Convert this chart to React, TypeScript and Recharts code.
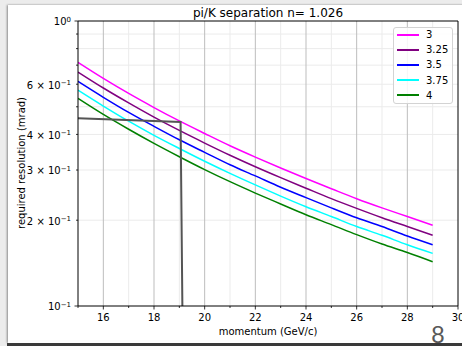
import { CartesianGrid, Legend, Line, LineChart, ReferenceLine, XAxis, YAxis } from "recharts";

// momentum (GeV/c) and required resolution (mrad)
const momentum = [15, 16, 17, 18, 19, 20, 21, 22, 23, 24, 25, 26, 27, 28, 29];
const resN300 = [0.716, 0.629, 0.557, 0.497, 0.446, 0.403, 0.365, 0.333, 0.305, 0.28, 0.258, 0.238, 0.221, 0.206, 0.192];
const resN325 = [0.662, 0.582, 0.516, 0.46, 0.413, 0.373, 0.338, 0.308, 0.282, 0.259, 0.238, 0.22, 0.204, 0.19, 0.177];
const resN350 = [0.614, 0.54, 0.478, 0.427, 0.383, 0.346, 0.313, 0.286, 0.261, 0.24, 0.221, 0.204, 0.19, 0.176, 0.164];
const resN375 = [0.572, 0.503, 0.445, 0.397, 0.357, 0.322, 0.292, 0.266, 0.243, 0.223, 0.206, 0.19, 0.177, 0.164, 0.153];
const resN400 = [0.535, 0.47, 0.417, 0.372, 0.334, 0.301, 0.273, 0.249, 0.228, 0.209, 0.193, 0.178, 0.165, 0.154, 0.143];

const seriesNames = ["3", "3.25", "3.5", "3.75", "4"];
const seriesColors = ["#ff00ff", "#800080", "#0000ff", "#00ffff", "#008000"];
const seriesValues = [resN300, resN325, resN350, resN375, resN400];

// the grey cut line
const cutX = [15, 19.05, 19.12];
const cutY = [0.456, 0.442, 0.1];

const xTicks = [15, 16, 17, 18, 19, 20, 21, 22, 23, 24, 25, 26, 27, 28, 29, 30];
const xMajor = [16, 18, 20, 22, 24, 26, 28, 30];
const xMinorGrid = [17, 19, 21, 23, 25, 27, 29];
const xMajorGrid = [16, 18, 20, 22, 24, 26, 28];

const yTicks = [0.1, 0.2, 0.3, 0.4, 0.5, 0.6, 0.7, 0.8, 0.9, 1];
const yMinorGrid = [0.2, 0.3, 0.4, 0.5, 0.6, 0.7, 0.8, 0.9];
const yLabelTicks = [0.1, 0.2, 0.3, 0.4, 0.6, 1];
const yMantissa = ["", "2", "3", "4", "6", ""];
const yExponent = ["−1", "−1", "−1", "−1", "−1", "0"];

const rows = momentum.map((x, i) => {
  const row: Record<string, number> = { x };
  seriesValues.forEach((vals, k) => {
    row[`s${k}`] = vals[i];
  });
  return row;
});
const cutRows = cutX.map((x, i) => ({ x, cut: cutY[i] }));

const FONT = "DejaVu Sans";

const XTick = (props: any) => {
  const { x, y, payload } = props;
  const major = xMajor.includes(payload.value);
  return (
    <g>
      <line x1={x} x2={x} y1={y} y2={y + (major ? 3.5 : 2)} stroke="#000" strokeWidth={0.8} />
      {major && (
        <text x={x} y={y + 15} textAnchor="middle" fontSize={10} fontFamily={FONT} fill="#000">
          {payload.value}
        </text>
      )}
    </g>
  );
};

const YTick = (props: any) => {
  const { x, y, payload } = props;
  const v = payload.value;
  const major = Math.abs(v - 0.1) < 1e-9 || Math.abs(v - 1) < 1e-9;
  const i = yLabelTicks.findIndex((t) => Math.abs(t - v) < 1e-9);
  return (
    <g>
      <line x1={x - (major ? 3.5 : 2)} x2={x} y1={y} y2={y} stroke="#000" strokeWidth={0.8} />
      {i >= 0 && (
        <text x={x - 7} y={y + 4.3} textAnchor="end" fontSize={10} fontFamily={FONT} fill="#000">
          <tspan>{yMantissa[i] ? `${yMantissa[i]} × 10` : "10"}</tspan>
          <tspan dy={-3.8} fontSize={7}>
            {yExponent[i]}
          </tspan>
        </text>
      )}
    </g>
  );
};

const LegendBox = () => (
  <div
    style={{
      width: 60,
      height: 77,
      boxSizing: "border-box",
      border: "1px solid #d3d3d3",
      borderRadius: 3,
      background: "rgba(255,255,255,0.85)",
      fontFamily: FONT,
    }}
  >
    <div style={{ marginTop: -1 }}>
      {seriesNames.map((name, i) => (
        <div key={name} style={{ display: "flex", alignItems: "center", height: 15.2 }}>
          <span style={{ marginLeft: 3, width: 22, height: 0, borderTop: `2px solid ${seriesColors[i]}` }} />
          <span style={{ marginLeft: 7, fontSize: 10, lineHeight: "15px", color: "#000" }}>{name}</span>
        </div>
      ))}
    </div>
  </div>
);

export default function App() {
  return (
    <div
      style={{
        position: "absolute",
        left: 0,
        top: 0,
        width: 462,
        height: 346,
        overflow: "hidden",
        background: "#ececec",
      }}
    >
      <div
        style={{
          position: "absolute",
          left: 8,
          top: 5,
          width: 460,
          height: 338,
          background: "#fff",
          boxShadow: "-1px 0 2px #8a8a8a",
        }}
      />
      <div style={{ position: "absolute", left: 7, top: 343, width: 460, height: 2.5, background: "#3a3a3a" }} />
      <div style={{ position: "absolute", left: 0, top: 0 }}>
        <LineChart width={462} height={346} data={rows} margin={{ top: 21, right: 4, bottom: 10, left: 0 }}>
          <CartesianGrid horizontalValues={yMinorGrid} verticalValues={xMinorGrid} stroke="#ebebeb" strokeWidth={1} />
          <CartesianGrid horizontal={false} verticalValues={xMajorGrid} stroke="#bdbdbd" strokeWidth={1} />
          <XAxis
            dataKey="x"
            type="number"
            domain={[15, 30]}
            ticks={xTicks}
            interval={0}
            tickSize={0}
            tickMargin={0}
            tickLine={false}
            tick={<XTick />}
            axisLine={{ stroke: "#000", strokeWidth: 1 }}
            height={30}
            allowDataOverflow
          />
          <YAxis
            type="number"
            scale="log"
            domain={[0.1, 1]}
            ticks={yTicks}
            interval={0}
            tickSize={0}
            tickMargin={0}
            tickLine={false}
            tick={<YTick />}
            axisLine={{ stroke: "#000", strokeWidth: 1 }}
            width={78}
            allowDataOverflow
          />
          <ReferenceLine y={1} stroke="#000" strokeWidth={1} />
          <ReferenceLine x={30} stroke="#000" strokeWidth={1} />
          {seriesNames.map((name, k) => (
            <Line
              key={name}
              type="monotone"
              dataKey={`s${k}`}
              name={name}
              stroke={seriesColors[k]}
              strokeWidth={1.5}
              dot={false}
              isAnimationActive={false}
            />
          ))}
          <Line
            data={cutRows}
            type="linear"
            dataKey="cut"
            stroke="#555555"
            strokeWidth={2}
            dot={false}
            legendType="none"
            isAnimationActive={false}
          />
          <Legend
            layout="vertical"
            align="center"
            verticalAlign="middle"
            content={() => <LegendBox />}
            wrapperStyle={{ left: 393, top: 27, width: 60, height: 77 }}
          />
        </LineChart>
      </div>
      <svg
        width={462}
        height={346}
        style={{ position: "absolute", left: 0, top: 0, pointerEvents: "none" }}
        fontFamily={FONT}
      >
        <text x={268} y={16.5} textAnchor="middle" fontSize={12} fill="#000">
          pi/K separation n= 1.026
        </text>
        <text x={268} y={335} textAnchor="middle" fontSize={10} fill="#000">
          momentum (GeV/c)
        </text>
        <text x={24.5} y={163} textAnchor="middle" fontSize={10} fill="#000" transform="rotate(-90 24.5 163)">
          required resolution (mrad)
        </text>
        <text x={438} y={343} textAnchor="middle" fontSize={24} fill="#595959" fontFamily="Liberation Sans">
          8
        </text>
      </svg>
    </div>
  );
}
